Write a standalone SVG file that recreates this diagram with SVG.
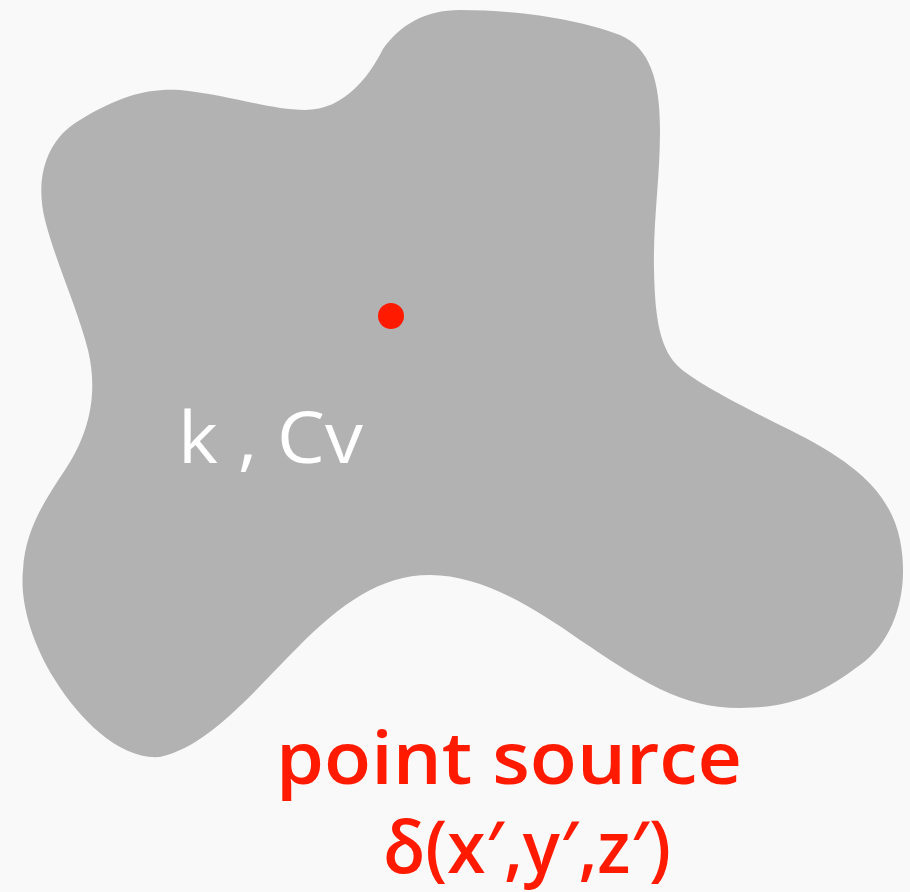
<svg xmlns="http://www.w3.org/2000/svg" width="910" height="892" viewBox="0 0 910 892">
<style>
.lbl{font-family:"Open Sans","Noto Sans","Liberation Sans",sans-serif;}
.red{fill:#ff1a00;}
.src{font-weight:600;font-size:73px;}
</style>
<rect x="0" y="0" width="910" height="892" fill="#f9f9f9"/>
<g id="body">
<path fill="#b2b2b2" d="M 383,49 C 400,25 425,10 460,10 C 520,10 580,20 620,35 C 650,48 660,80 660,130 C 660,180 653,220 654,270 C 655,320 660,350 680,368 C 700,385 740,405 790,430 C 850,460 890,490 900,540 C 910,590 895,640 860,665 C 820,695 790,708 740,708 C 680,708 640,680 580,640 C 530,605 480,575 430,575 C 380,575 340,605 300,645 C 250,695 210,745 160,757 C 120,760 80,720 55,680 C 30,640 20,600 23,570 C 25,530 45,500 65,470 C 85,440 100,400 88,350 C 78,310 55,260 45,220 C 35,180 45,140 80,120 C 120,95 150,88 180,90 C 230,95 270,110 305,110 C 345,110 370,75 383,49 Z"/>
<text class="lbl" x="178" y="463" font-size="72" fill="#ffffff" textLength="185" lengthAdjust="spacingAndGlyphs">k , Cv</text>
</g>
<g id="source">
<circle cx="391" cy="316" r="13" class="red"/>
<text class="lbl red src" x="276" y="784" textLength="466" lengthAdjust="spacingAndGlyphs">point source</text>
<text class="lbl red src" x="383" y="873" textLength="288" lengthAdjust="spacingAndGlyphs">δ(x′,y′,z′)</text>
</g>
</svg>
